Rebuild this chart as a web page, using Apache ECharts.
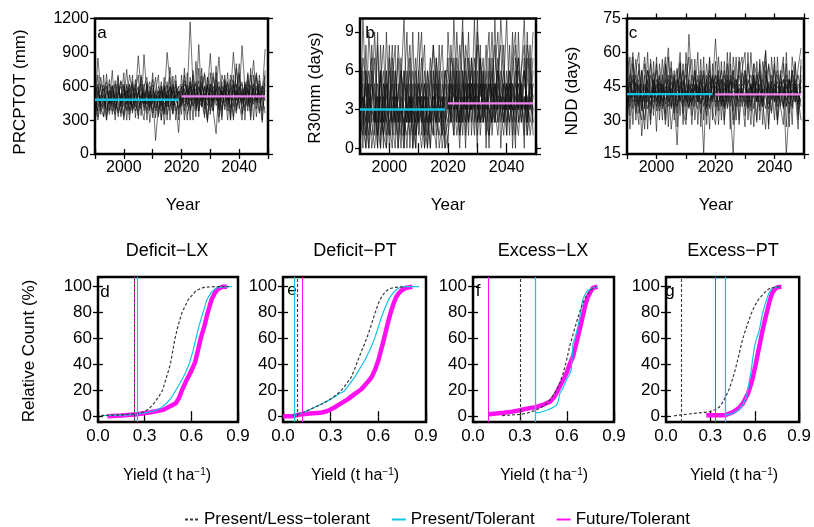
<!DOCTYPE html>
<html><head><meta charset="utf-8">
<script src="https://cdn.jsdelivr.net/npm/echarts@6/dist/echarts.min.js"></script>
<style>html,body{margin:0;padding:0;background:#fff}#c{width:814px;height:527px}</style>
</head><body><div id="c"></div>
<script>
// ---------- DATA ----------
const years = [1990,1991,1992,1993,1994,1995,1996,1997,1998,1999,2000,2001,2002,2003,2004,2005,2006,2007,2008,2009,
2010,2011,2012,2013,2014,2015,2016,2017,2018,2019,2020,2021,2022,2023,2024,2025,2026,2027,2028,2029,
2030,2031,2032,2033,2034,2035,2036,2037,2038,2039,2040,2041,2042,2043,2044,2045,2046,2047,2048,2049];

const prcptotRuns = [
[420,850,560,480,390,520,610,450,380,540,470,600,520,430,500,870,560,410,480,530,390,450,600,520,470,900,640,450,520,400,480,620,540,1170,600,430,520,690,480,560,890,470,520,410,600,550,480,700,620,430,520,960,580,450,610,520,480,650,530,930],
[380,450,520,610,470,350,500,560,620,430,480,750,440,520,580,460,400,880,510,450,560,120,420,500,610,480,770,520,430,190,560,480,610,520,430,500,970,470,580,520,460,380,180,590,520,640,470,530,900,560,450,520,610,480,540,830,470,520,600,560],
[520,300,460,540,600,480,420,350,510,640,560,470,390,600,450,520,700,480,360,540,610,470,350,560,500,420,600,530,620,480,510,430,470,560,620,500,380,640,460,300,550,720,470,520,380,610,560,480,420,800,510,470,560,380,700,520,450,600,490,540],
[600,540,380,450,520,660,470,400,560,490,350,520,610,480,420,550,460,600,680,400,500,540,470,300,560,610,450,380,540,590,620,560,440,500,700,460,590,520,350,680,470,540,610,430,480,570,300,620,540,470,700,490,420,560,480,620,530,360,580,700],
[450,520,600,330,480,560,520,620,450,360,540,480,700,550,380,470,520,440,600,470,530,410,490,640,380,520,470,600,470,550,440,700,520,600,480,540,650,420,520,610,380,500,560,860,450,490,620,410,560,520,600,440,530,700,420,480,580,500,280,620],
[300,420,480,520,420,390,560,500,460,420,600,380,460,500,620,410,480,540,390,600,440,560,520,380,540,460,420,560,380,460,500,580,350,470,540,620,440,560,720,480,420,600,500,460,640,390,520,580,470,360,560,620,480,520,380,560,700,450,520,480],
[480,380,620,560,640,440,380,480,530,600,420,560,350,470,520,600,430,520,560,420,480,520,400,460,580,350,520,470,560,520,600,380,520,470,580,400,540,610,500,430,620,560,430,480,560,500,640,360,600,540,480,560,380,620,580,440,520,560,450,400],
[540,600,430,400,560,500,440,540,360,480,620,440,520,380,470,540,620,450,520,480,360,500,560,430,400,560,510,620,480,420,450,520,580,400,500,580,470,420,600,550,500,430,660,560,400,540,480,560,620,400,520,580,460,430,500,470,600,520,560,470],
[350,480,500,580,340,470,600,420,500,520,460,400,560,640,430,380,500,560,440,500,580,480,520,460,350,540,580,420,500,560,530,460,500,640,420,510,480,560,430,600,520,470,580,390,520,600,450,500,560,620,400,540,500,580,450,520,480,560,600,500],
[500,560,420,470,500,440,520,460,600,460,520,560,480,410,540,500,580,520,440,560,460,520,480,560,440,480,500,430,600,500,470,540,490,560,600,480,520,460,540,480,580,520,480,600,540,460,520,500,480,560,500,460,620,540,500,580,470,540,500,560],
[280,620,350,700,300,560,420,650,330,480,720,300,580,390,660,310,540,450,620,280,500,680,330,600,260,520,380,690,300,560,350,760,420,640,300,820,380,560,700,280,620,460,780,330,560,420,720,300,650,480,800,350,600,420,760,300,680,520,380,740],
[640,330,520,420,710,380,600,300,680,420,330,620,380,700,320,580,430,300,640,380,720,320,560,420,680,300,600,360,650,300,700,420,300,680,500,330,760,420,600,300,720,380,560,640,300,700,420,520,330,760,450,300,640,560,330,700,400,620,300,680],
[450,700,400,330,600,450,740,380,520,650,300,480,620,360,560,700,340,620,300,520,660,380,480,600,350,640,300,560,700,350,600,300,720,380,560,640,330,760,400,620,350,680,520,280,700,600,380,660,300,580,720,360,500,650,300,600,720,380,560,640],
[360,540,680,500,300,620,350,520,700,330,600,520,300,620,480,340,680,380,560,640,320,560,700,300,600,420,680,350,520,600,420,650,560,300,740,380,600,480,320,680,560,380,720,460,330,660,560,300,700,380,580,640,300,720,460,580,330,700,500,360]
];

const r30Runs = [
[1,10,4,6,2,0,3,5,8,2,1,4,3,7,2,0,5,3,2,6,1,4,2,3,5,8,2,1,3,4,3,6,2,9,4,1,5,3,7,2,10,4,6,2,1,5,8,3,4,2,6,3,9,1,5,4,2,7,3,5],
[5,2,0,3,6,1,8,2,4,0,3,7,2,1,5,10,2,4,0,3,6,2,5,1,3,4,2,6,0,2,4,2,7,3,5,10,1,4,6,3,2,7,4,5,1,3,6,9,2,4,3,5,1,7,3,6,10,2,4,3],
[2,6,3,1,4,5,0,6,3,2,8,1,4,3,0,6,3,2,9,1,3,5,2,0,4,3,6,2,5,3,5,3,1,6,2,4,7,2,5,3,6,1,4,8,3,2,5,3,6,4,1,5,3,2,6,4,3,5,8,2],
[0,3,5,2,1,3,4,1,5,3,2,0,6,2,3,1,4,6,2,0,5,3,1,4,2,6,3,4,1,3,2,5,4,1,3,6,2,5,3,7,4,2,3,6,2,5,3,1,4,6,3,2,5,3,7,2,4,1,3,6],
[3,1,6,4,0,2,5,3,1,4,6,2,0,5,3,2,1,3,6,4,2,0,3,5,2,1,7,3,2,6,6,4,3,5,1,4,3,6,2,5,3,7,2,4,5,3,2,6,5,3,4,6,2,4,3,5,6,3,2,4],
[4,5,2,0,3,7,2,4,6,1,3,5,2,4,6,3,0,4,3,2,4,2,6,3,0,5,1,3,4,0,1,3,5,2,6,3,4,2,5,4,1,5,3,2,6,4,5,2,3,1,5,3,4,6,2,3,5,4,1,3],
[6,3,1,5,2,3,1,4,2,6,0,3,5,2,4,3,2,5,1,3,2,4,3,6,2,3,4,5,2,1,2,4,3,4,5,2,6,4,3,5,2,3,5,3,4,6,2,4,3,5,2,4,3,5,4,2,6,3,5,4],
[2,4,3,5,3,2,4,2,3,5,2,3,4,3,1,4,3,2,4,3,5,3,4,2,3,2,5,3,4,2,3,5,4,3,2,5,3,4,4,3,5,2,4,3,5,4,3,5,4,2,4,5,3,4,5,3,4,2,5,4],
[1,2,6,3,5,4,2,0,5,4,3,2,6,3,2,5,4,1,3,2,4,3,0,2,6,3,2,4,3,6,5,2,3,4,1,3,5,2,4,6,3,5,2,4,3,2,4,6,3,5,4,2,5,3,1,4,6,3,4,2],
[3,4,2,4,3,2,3,3,1,3,4,2,3,4,3,2,3,4,3,5,2,3,4,2,3,4,3,2,3,5,4,3,6,3,4,3,2,5,3,4,4,3,5,4,3,2,5,4,4,3,5,4,3,3,4,5,3,4,3,5],
[8,3,0,5,7,2,9,0,4,6,1,5,8,0,3,6,2,7,0,4,9,1,5,3,0,6,2,8,1,4,7,2,10,4,0,6,3,9,1,5,8,2,6,0,7,3,10,2,5,8,1,6,4,0,9,3,7,1,5,9],
[2,7,5,0,8,4,1,6,0,9,3,6,1,4,7,0,5,8,3,0,6,9,1,4,7,2,0,5,8,3,0,8,4,6,2,9,5,1,7,4,0,8,2,6,9,1,4,7,0,5,10,3,6,8,2,5,0,9,4,7],
[5,0,8,2,4,9,3,6,1,0,7,4,2,8,5,1,6,0,4,7,2,5,8,0,3,1,7,4,6,0,9,5,1,7,4,2,8,6,3,10,2,5,7,1,4,9,3,6,8,2,5,1,7,9,3,6,8,2,7,1],
[7,4,1,9,5,3,0,8,2,5,4,8,3,0,6,4,9,2,5,1,3,7,0,6,4,8,5,0,2,6,3,7,6,2,8,5,0,7,4,1,9,6,3,5,0,7,2,4,10,6,3,8,0,5,7,4,1,8,6,3]
];

const nddRuns = [
[62,48,35,44,52,40,30,45,55,38,42,50,36,47,62,40,33,48,44,52,38,68,45,36,50,42,39,55,41,46,66,44,38,50,35,47,52,40,58,42,36,48,44,55,39,50,42,61,37,46,52,40,45,35,50,44,48,38,53,62],
[30,42,55,38,46,23,40,52,44,35,48,40,57,33,45,50,38,19,47,42,55,36,44,49,38,52,46,40,35,48,42,50,36,46,40,55,30,48,42,38,52,44,36,49,43,38,56,45,40,33,47,52,42,48,36,44,50,40,38,45],
[45,38,50,42,36,48,58,40,33,46,52,38,44,42,50,35,47,53,39,44,36,48,42,52,40,44,15,50,36,42,38,45,52,40,48,34,15,46,50,42,38,55,44,40,48,52,36,45,42,50,40,38,47,44,15,36,42,48,35,40],
[52,44,40,47,33,42,45,38,50,43,36,47,41,54,36,42,49,44,38,47,42,35,50,43,46,38,41,47,52,39,47,36,44,52,41,38,49,44,36,51,45,40,46,35,50,43,38,47,54,40,44,36,50,42,46,40,52,44,37,48],
[38,50,46,33,41,52,36,44,40,51,38,44,35,42,48,40,52,36,41,45,50,38,44,39,35,47,42,36,44,50,36,42,48,35,50,44,40,36,46,41,48,35,42,50,38,46,41,35,47,44,38,50,36,43,48,40,36,45,50,42],
[42,36,44,50,38,46,40,48,37,44,40,34,46,39,42,47,36,44,51,38,43,40,37,46,42,48,36,43,47,40,44,48,40,38,45,42,47,39,44,36,42,46,50,44,38,45,48,40,35,42,46,39,44,48,40,37,44,46,42,36],
[40,47,38,42,48,35,44,41,36,47,42,49,38,45,40,36,43,48,40,36,46,42,39,44,48,41,45,38,43,49,40,38,44,47,36,42,45,48,40,44,39,36,45,42,47,41,36,44,40,47,38,45,42,36,44,48,40,45,41,38],
[48,40,43,36,45,41,38,47,42,40,45,37,43,48,38,44,40,36,45,42,40,46,38,42,45,37,43,46,39,42,45,41,37,44,43,47,40,42,38,46,44,41,38,47,42,36,44,41,46,39,43,47,41,45,39,42,46,38,44,47],
[34,44,48,40,37,43,46,35,41,45,39,42,46,37,44,41,47,38,42,48,40,36,42,45,38,44,50,41,38,44,50,46,42,36,40,48,44,46,42,40,50,38,43,46,40,44,38,50,43,41,46,42,38,44,42,48,38,42,46,44],
[44,40,42,46,43,38,42,44,40,42,46,41,39,43,45,41,42,40,44,41,39,43,46,40,42,41,44,40,42,45,41,44,40,43,46,40,43,42,44,41,40,43,45,41,44,40,43,42,45,41,43,40,44,42,45,41,43,44,40,43],
[55,32,58,40,28,52,35,60,30,48,25,55,42,30,58,36,50,27,55,33,60,44,28,52,38,57,30,48,26,55,32,58,42,28,60,36,52,30,56,40,27,60,34,50,29,57,38,26,55,46,30,58,36,28,60,33,52,42,26,57],
[45,58,28,52,60,34,50,26,57,42,55,30,48,58,27,53,44,33,56,28,47,58,32,40,60,27,52,35,57,30,56,28,48,36,55,26,58,45,30,52,60,30,46,27,56,34,50,60,28,45,55,30,48,58,27,52,35,55,30,50],
[35,48,60,30,55,40,26,52,46,32,58,36,50,28,40,56,30,46,60,34,28,50,57,30,45,33,58,28,50,38,50,34,56,30,46,60,28,36,52,58,32,44,28,55,50,30,46,56,26,58,40,30,52,36,55,27,58,46,32,54],
[50,26,44,57,36,30,55,42,28,56,34,46,30,55,44,26,40,52,32,55,30,46,36,57,28,50,40,32,58,34,28,52,30,56,38,50,34,58,28,46,52,36,60,40,30,55,28,52,44,34,58,28,42,55,36,48,28,56,40,30]
];

const presentPeriod = [1990, 2019];
const futurePeriod = [2020, 2049];
const prcptotMeans = [480, 510];
const r30Means = [3.0, 3.47];
const nddMeans = [41.5, 41.4];

const topLabels = ['PRCPTOT (mm)', 'R30mm (days)', 'NDD (days)'];
const topLetters = ['a', 'b', 'c'];
const cdfTitles = ['Deficit\u2212LX', 'Deficit\u2212PT', 'Excess\u2212LX', 'Excess\u2212PT'];
const cdfLetters = ['d', 'e', 'f', 'g'];
const seriesNames = ['Present/Less\u2212tolerant', 'Present/Tolerant', 'Future/Tolerant'];

// CDF curves [yield, relative count %]
const lessTolerantCdf = [
[[0.02,0.5],[0.15,1],[0.25,2],[0.3,3.5],[0.33,6],[0.36,10],[0.39,15],[0.415,20],[0.44,30],[0.465,40],[0.48,50],[0.495,60],[0.515,70],[0.54,80],[0.58,90],[0.63,97],[0.68,99.5],[0.75,100],[0.84,100]],
[[0.06,0.5],[0.086,1.3],[0.14,3.5],[0.193,6.5],[0.24,9],[0.279,11.7],[0.32,15],[0.364,19.5],[0.4,25],[0.429,30],[0.45,36],[0.471,43],[0.49,49],[0.514,56],[0.535,63],[0.557,71],[0.58,80],[0.6,87],[0.62,92],[0.643,96],[0.67,98.5],[0.707,99.5],[0.77,100]],
[[0.186,0.5],[0.3,1.3],[0.35,2.5],[0.4,4.6],[0.44,7],[0.47,9.8],[0.5,14],[0.533,20],[0.555,26],[0.575,33],[0.595,42],[0.617,54],[0.638,63],[0.659,72],[0.68,80],[0.7,87],[0.72,92],[0.743,96],[0.765,99],[0.785,100]],
[[0.054,0.3],[0.141,1.5],[0.22,2.5],[0.293,3.4],[0.33,5],[0.36,7],[0.39,12],[0.424,20],[0.445,27],[0.467,35.6],[0.49,46],[0.51,56],[0.53,64],[0.554,72],[0.575,79],[0.598,85],[0.63,91],[0.663,95],[0.685,97.5],[0.707,99],[0.77,100]]
];
const tolerantCdf = [
[[0.02,0.5],[0.2,1],[0.3,2.5],[0.36,4],[0.4,6],[0.44,10],[0.47,14],[0.5,20],[0.53,26],[0.56,33],[0.585,40],[0.61,50],[0.63,60],[0.65,70],[0.675,80],[0.7,90],[0.73,96],[0.76,99],[0.82,100],[0.86,100]],
[[0.06,0.5],[0.086,1],[0.14,3.5],[0.193,6.5],[0.25,10],[0.3,13],[0.35,17],[0.386,19.5],[0.42,25],[0.45,30],[0.48,36],[0.514,43],[0.55,52],[0.579,61],[0.6,69],[0.621,77],[0.643,84],[0.664,90],[0.685,94],[0.707,97],[0.73,99],[0.75,100],[0.857,100]],
[[0.4,2.5],[0.43,3],[0.47,4.6],[0.5,6],[0.533,8.5],[0.545,12],[0.554,17.5],[0.575,22],[0.596,28],[0.615,32],[0.627,35.6],[0.632,45],[0.638,56],[0.65,60],[0.669,69],[0.68,76],[0.69,82],[0.7,90],[0.715,94],[0.732,97],[0.764,99],[0.795,100]],
[[0.4,0.8],[0.45,2],[0.49,4.6],[0.52,9],[0.543,15],[0.56,25],[0.576,35.6],[0.587,45],[0.598,54],[0.615,61],[0.63,66],[0.64,72],[0.652,79],[0.668,86],[0.685,92],[0.7,96],[0.717,99],[0.77,100]]
];
const futureCdf = [
[[0.06,0],[0.15,0.5],[0.25,1.5],[0.34,3],[0.42,5],[0.47,8],[0.5,10],[0.52,14],[0.54,20],[0.57,28],[0.6,35],[0.625,42],[0.645,52],[0.66,60],[0.685,70],[0.705,80],[0.73,90],[0.75,95],[0.77,98],[0.8,100],[0.83,100]],
[[0.0,0],[0.06,0],[0.107,1.3],[0.17,2],[0.236,2.6],[0.28,4],[0.321,6.5],[0.36,9.5],[0.407,13],[0.45,17],[0.493,20.8],[0.53,26],[0.557,30],[0.58,36],[0.6,43],[0.615,50],[0.632,58],[0.648,66],[0.664,74],[0.68,81],[0.696,87],[0.712,92],[0.729,95],[0.75,97.5],[0.771,99],[0.814,100]],
[[0.1,1.5],[0.197,2.6],[0.25,3.5],[0.3,4.6],[0.35,6],[0.4,7],[0.45,9],[0.49,11],[0.52,15],[0.554,23],[0.575,28],[0.596,33],[0.617,40],[0.638,46],[0.655,54],[0.669,61],[0.685,69],[0.7,77],[0.715,85],[0.732,92],[0.75,96],[0.764,99],[0.795,100]],
[[0.272,0.8],[0.35,0.8],[0.4,0.8],[0.45,3],[0.49,6],[0.52,10],[0.554,17.5],[0.57,23],[0.587,30],[0.604,39],[0.62,48],[0.636,57],[0.652,66],[0.668,74],[0.685,82],[0.7,89],[0.717,95],[0.735,98],[0.75,99.5],[0.78,100]]
];
// vertical reference lines (yield thresholds)
const lessTolerantThreshold = [0.226, 0.085, 0.30, 0.104];
const tolerantThreshold = [0.247, 0.075, 0.40, 0.398];
const futureThreshold = [0.230, 0.115, 0.10, 0.333];

// ---------- LAYOUT / STYLE ----------
const FONT = '"Liberation Sans", Arial, Helvetica, sans-serif';
const CYAN = '#12C3E6';
const VIOLET = '#EE82EE';
const MAGENTA = '#FF10F0';
const DASH = '#3a3a3a';

const topGrids = [
  {left: 95, top: 18.5, width: 173, height: 135.5},
  {left: 360, top: 18.5, width: 176, height: 135.5},
  {left: 627, top: 18.5, width: 177, height: 135.5}
];
const botGrids = [
  {left: 98, top: 277, width: 140, height: 145},
  {left: 283, top: 277, width: 143, height: 145},
  {left: 473, top: 277, width: 141, height: 145},
  {left: 666, top: 277, width: 136, height: 145}
];
const topY = [
  {min: 0, max: 1200, interval: 300},
  {min: -0.45, max: 10.05, minInterval: 3, maxInterval: 3},
  {min: 15, max: 75, interval: 15}
];

const grid = [], xAxis = [], yAxis = [], series = [], graphic = [];
const tickStyle = {show: true, length: 5, inside: false, lineStyle: {color: '#000', width: 1.3}};

function addPanel(g, xs, ys, labelSize, xFmt) {
  const gi = grid.length;
  grid.push(Object.assign({show: true, borderColor: '#000', borderWidth: 2.5, backgroundColor: 'transparent', containLabel: false}, g));
  const xi = xAxis.length, yi = yAxis.length;
  const common = {gridIndex: gi, type: 'value', splitLine: {show: false}, axisLine: {show: false}, axisTick: tickStyle};
  xAxis.push(Object.assign({}, common, xs, {position: 'bottom',
    axisLabel: {color: '#000', fontSize: labelSize, fontFamily: FONT, margin: 6, formatter: xFmt, showMinLabel: true, showMaxLabel: true}}));
  xAxis.push(Object.assign({}, common, xs, {position: 'top', axisLabel: {show: false}}));
  yAxis.push(Object.assign({}, common, ys, {position: 'left',
    axisLabel: {color: '#000', fontSize: labelSize, fontFamily: FONT, margin: 6, formatter: v => String(v),
      showMinLabel: ys.interval !== undefined, showMaxLabel: ys.interval !== undefined}}));
  yAxis.push(Object.assign({}, common, ys, {position: 'right', axisLabel: {show: false}}));
  return {xi, yi};
}

const runSets = [prcptotRuns, r30Runs, nddRuns];
const meanSets = [prcptotMeans, r30Means, nddMeans];
for (let p = 0; p < 3; p++) {
  const {xi, yi} = addPanel(topGrids[p], {min: 1990, max: 2050, interval: 10}, topY[p], 16,
    v => (v % 20 === 0 && v < 2050 && v > 1990) ? String(v) : '');
  runSets[p].forEach(run => {
    series.push({type: 'line', xAxisIndex: xi, yAxisIndex: yi, symbol: 'none', silent: true,
      lineStyle: {color: '#111', width: 0.7, opacity: 0.85},
      data: years.map((y, i) => [y, run[i]])});
  });
  series.push({type: 'line', xAxisIndex: xi, yAxisIndex: yi, symbol: 'none', silent: true, z: 5,
    lineStyle: {color: CYAN, width: 2.4},
    data: [[presentPeriod[0], meanSets[p][0]], [presentPeriod[1], meanSets[p][0]]]});
  series.push({type: 'line', xAxisIndex: xi, yAxisIndex: yi, symbol: 'none', silent: true, z: 5,
    lineStyle: {color: VIOLET, width: 2.4},
    data: [[futurePeriod[0], meanSets[p][1]], [futurePeriod[1], meanSets[p][1]]]});
}

for (let p = 0; p < 4; p++) {
  const {xi, yi} = addPanel(botGrids[p], {min: 0, max: 0.9, interval: 0.3},
    {min: -4.5, max: 107.5, minInterval: 20, maxInterval: 20}, 17, v => v.toFixed(1));
  series.push({name: seriesNames[2], type: 'line', xAxisIndex: xi, yAxisIndex: yi, symbol: 'none', z: 2,
    lineStyle: {color: MAGENTA, width: 4.5}, itemStyle: {color: MAGENTA}, data: futureCdf[p],
    markLine: {symbol: 'none', silent: true, label: {show: false}, lineStyle: {color: MAGENTA, width: 1, type: 'solid'},
      data: [{xAxis: futureThreshold[p]}]}});
  series.push({name: seriesNames[1], type: 'line', xAxisIndex: xi, yAxisIndex: yi, symbol: 'none', z: 3,
    lineStyle: {color: CYAN, width: 1.2}, itemStyle: {color: CYAN}, data: tolerantCdf[p],
    markLine: {symbol: 'none', silent: true, label: {show: false}, lineStyle: {color: CYAN, width: 1.2, type: 'solid'},
      data: [{xAxis: tolerantThreshold[p]}]}});
  series.push({name: seriesNames[0], type: 'line', xAxisIndex: xi, yAxisIndex: yi, symbol: 'none', z: 4,
    lineStyle: {color: DASH, width: 1.2, type: [3, 2]}, itemStyle: {color: DASH}, data: lessTolerantCdf[p],
    markLine: {symbol: 'none', silent: true, label: {show: false}, lineStyle: {color: DASH, width: 1.1, type: [3, 2]},
      data: [{xAxis: lessTolerantThreshold[p]}]}});
}

// ---------- TEXT ----------
function txt(x, y, s, size, rot, extra) {
  graphic.push({type: 'text', x: x, y: y, rotation: rot || 0, silent: true,
    style: Object.assign({text: s, fill: '#000', font: size + 'px ' + FONT, align: 'center', verticalAlign: 'middle'}, extra || {})});
}
txt(20, 92, topLabels[0], 17, Math.PI / 2);
txt(315, 88, topLabels[1], 17, Math.PI / 2);
txt(572, 91, topLabels[2], 17, Math.PI / 2);
[183, 448, 716].forEach(x => txt(x, 205, 'Year', 17));
txt(102, 33, topLetters[0], 17);
txt(370, 33, topLetters[1], 17);
txt(633, 33, topLetters[2], 17);
txt(29, 351, 'Relative Count (%)', 17, Math.PI / 2);
[167, 355, 543, 733].forEach((x, i) => txt(x, 251, cdfTitles[i], 18));
[[105, 292], [292, 290], [478, 291], [670, 291]].forEach((c, i) => txt(c[0], c[1], cdfLetters[i], 17));
[167, 355, 544, 734].forEach(x => {
  graphic.push({type: 'text', x: x, y: 476, silent: true,
    style: {text: 'Yield (t ha{s|\u22121})', fill: '#000', font: '16px ' + FONT, align: 'center', verticalAlign: 'middle',
      rich: {s: {fontSize: 10, fontFamily: FONT, fill: '#000', verticalAlign: 'top', padding: [0, 0, 8, 0]}}}});
});

const chart = echarts.init(document.getElementById('c'), null, {renderer: 'canvas'});
chart.setOption({
  animation: false,
  backgroundColor: '#fff',
  grid, xAxis, yAxis, series, graphic,
  legend: {data: seriesNames, left: 184, top: 511, padding: 0, itemWidth: 14, itemHeight: 8, itemGap: 21,
    itemStyle: {opacity: 0},
    textStyle: {fontSize: 17, fontFamily: FONT, color: '#000'}, selectedMode: false}
});
</script></body></html>
